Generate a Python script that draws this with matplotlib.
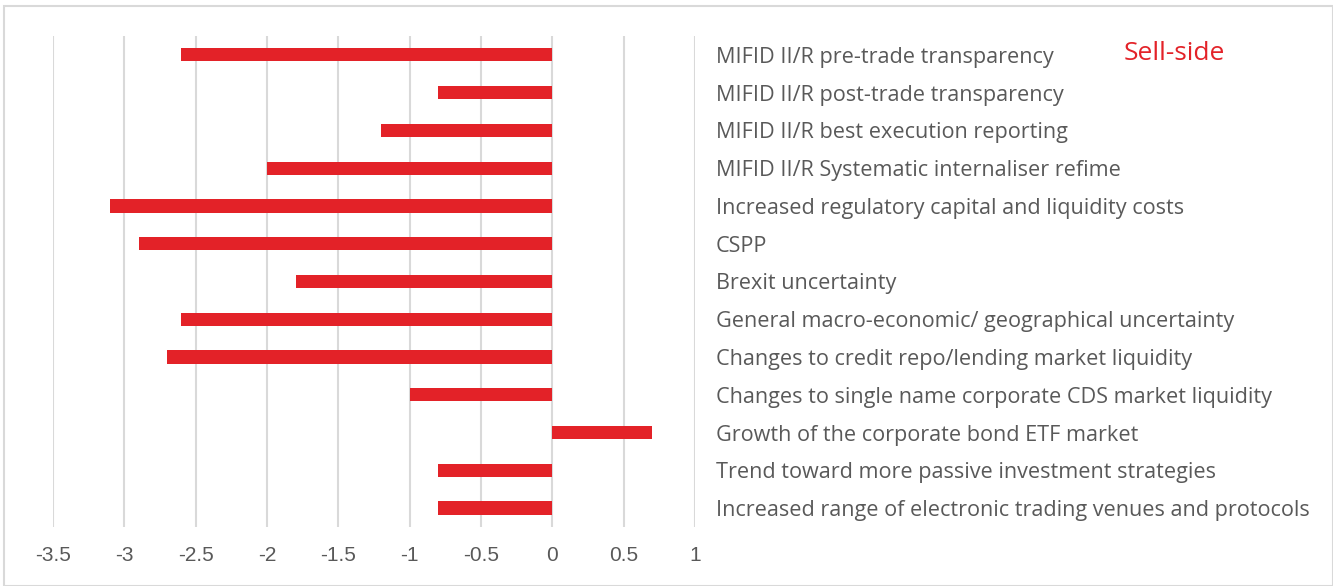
import matplotlib.pyplot as plt
from matplotlib.patches import Rectangle
import numpy as np

# Data
factors = [
    "MIFID II/R pre-trade transparency",
    "MIFID II/R post-trade transparency",
    "MIFID II/R best execution reporting",
    "MIFID II/R Systematic internaliser refime",
    "Increased regulatory capital and liquidity costs",
    "CSPP",
    "Brexit uncertainty",
    "General macro-economic/ geographical uncertainty",
    "Changes to credit repo/lending market liquidity",
    "Changes to single name corporate CDS market liquidity",
    "Growth of the corporate bond ETF market",
    "Trend toward more passive investment strategies",
    "Increased range of electronic trading venues and protocols",
]
scores = [-2.6, -0.8, -1.2, -2.0, -3.1, -2.9, -1.8, -2.6, -2.7, -1.0, 0.7, -0.8, -0.8]
x_ticks = [-3.5, -3, -2.5, -2, -1.5, -1, -0.5, 0, 0.5, 1]
x_labels = ["-3.5", "-3", "-2.5", "-2", "-1.5", "-1", "-0.5", "0", "0.5", "1"]

red = "#E32228"
grey_text = "#595959"
grid_col = "#D9D9D9"

plt.rcParams['font.family'] = ['Open Sans', 'DejaVu Sans']

fig = plt.figure(figsize=(13.33, 5.86), dpi=100, facecolor='white')
ax = fig.add_axes([0.0398, 0.1007, 0.4816, 0.8379])

y = np.arange(len(factors))
ax.barh(y, scores, height=0.35, color=red, zorder=3)

ax.set_xlim(-3.5, 1)
ax.set_ylim(-0.5, len(factors) - 0.5)
ax.invert_yaxis()

ax.set_xticks(x_ticks)
ax.set_xticklabels(x_labels, fontsize=15, color=grey_text, family=['Liberation Sans'])
ax.xaxis.grid(True, color=grid_col, linewidth=1.5, zorder=0)
ax.tick_params(axis='x', length=0, pad=14)

ax.yaxis.tick_right()
ax.set_yticks(y)
ax.set_yticklabels(factors, fontsize=15.6, color=grey_text, ha='left')
ax.tick_params(axis='y', length=0, pad=15)

for s in ax.spines.values():
    s.set_visible(False)

# series label
ax.text(1124 / 1333, 1 - 54 / 586, "Sell-side", transform=fig.transFigure,
        fontsize=19, color=red, va='center', ha='left')

# outer border
fig.patches.append(Rectangle((4 / 1333, 0.0), 1 - 4 / 1333, 1 - 6 / 586,
                             transform=fig.transFigure, fill=False,
                             edgecolor=grid_col, linewidth=1.5))

plt.savefig("out.png", dpi=100, facecolor='white')
